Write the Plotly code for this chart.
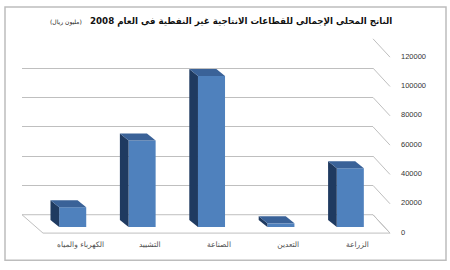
import plotly.graph_objects as go

# Data (left-to-right as displayed)
categories = ["الكهرباء والمياه", "التشييد", "الصناعة", "التعدين", "الزراعة"]
values = [13500, 59000, 103000, 2500, 40000]
y_ticks = [0, 20000, 40000, 60000, 80000, 100000, 120000]
title_main = "الناتج المحلي الإجمالي للقطاعات الانتاجية غير النفطية في العام 2008"
title_unit = "(مليون ريال)"

W, H = 450, 270
def fx(x): return x / W
def fy(y): return 1 - y / H

# Geometry (pixels)
BACK_L, BACK_R, BACK_0, BACK_TOP = 22, 373, 218, 36
BAR_L, BAR_R, BAR_0, BAR_TOP = 38, 385, 230.7, 48.7
FR_L, FR_R, FR_0, FR_TOP = 46, 392, 236, 54
YMAX = 120000

bar_w = 0.39
hw = bar_w / 2
dx = 0.125   # depth offset in category units (towards back-left)
dy = 4800    # depth offset in value units (upwards)

FRONT = "#4F81BD"
TOP = "#3A6298"
SIDE = "#1F3A60"

fig = go.Figure()

idx = list(range(len(categories)))

fig.add_trace(go.Scatter(x=idx, y=values, mode="markers", marker=dict(opacity=0),
                         xaxis="x", yaxis="y", hoverinfo="skip", showlegend=False))
fig.add_trace(go.Scatter(x=idx, y=values, mode="markers", marker=dict(opacity=0),
                         xaxis="x2", yaxis="y2", hoverinfo="skip", showlegend=False))

for i, v in zip(idx, values):
    fig.add_trace(go.Scatter(
        x=[i - hw, i - hw, i - hw - dx, i - hw - dx, i - hw],
        y=[0, v, v + dy, dy, 0],
        fill="toself", fillcolor=SIDE, mode="lines", line=dict(width=0, color=SIDE),
        xaxis="x3", yaxis="y3", hoverinfo="skip", showlegend=False))
    fig.add_trace(go.Scatter(
        x=[i - hw, i + hw, i + hw - dx, i - hw - dx, i - hw],
        y=[v, v, v + dy, v + dy, v],
        fill="toself", fillcolor=TOP, mode="lines", line=dict(width=0, color=TOP),
        xaxis="x3", yaxis="y3", hoverinfo="skip", showlegend=False))

fig.add_trace(go.Bar(x=idx, y=values, width=bar_w, marker=dict(color=FRONT, line=dict(width=0)),
                     xaxis="x3", yaxis="y3", showlegend=False))

shapes = []
shapes.append(dict(type="path", xref="paper", yref="paper",
                   path=f"M {fx(BACK_L)} {fy(BACK_0)} L {fx(BACK_R)} {fy(BACK_0)} L {fx(FR_R - 2)} {fy(FR_0 + 1)} L {fx(43)} {fy(FR_0 + 1)} Z",
                   line=dict(color="#BFBFBF", width=1), layer="below"))
for t in y_ticks:
    yb = BACK_0 - (BACK_0 - BACK_TOP) * t / YMAX
    shapes.append(dict(type="line", xref="paper", yref="paper",
                       x0=fx(BACK_R), y0=fy(yb), x1=fx(FR_R - 2), y1=fy(yb + 19),
                       line=dict(color="#BFBFBF", width=1), layer="below"))
shapes.append(dict(type="rect", xref="paper", yref="paper",
                   x0=fx(5), y0=fy(265), x1=fx(446), y1=fy(3),
                   line=dict(color="#BDBDBD", width=1.5), layer="below"))

fig.update_layout(
    width=W, height=H,
    margin=dict(l=0, r=0, t=0, b=0),
    paper_bgcolor="white", plot_bgcolor="rgba(0,0,0,0)",
    showlegend=False,
    shapes=shapes,
    xaxis=dict(domain=[fx(BACK_L), fx(BACK_R)], range=[-0.5, 4.5], visible=False,
               anchor="y"),
    yaxis=dict(domain=[fy(BACK_0), fy(BACK_TOP)], range=[0, YMAX], anchor="x",
               tickvals=y_ticks, showticklabels=False, showgrid=True,
               gridcolor="#BFBFBF", gridwidth=1, zeroline=False, showline=False),
    xaxis2=dict(domain=[fx(FR_L), fx(FR_R)], range=[-0.5, 4.5], anchor="y2",
                tickvals=idx, ticktext=categories, showgrid=False, zeroline=False,
                showline=False, ticks="", ticklabelstandoff=6,
                tickfont=dict(family="DejaVu Sans", size=7.5, color="#505050")),
    yaxis2=dict(domain=[fy(FR_0), fy(FR_TOP)], range=[0, YMAX], anchor="free",
                position=fx(FR_R), side="right",
                tickvals=y_ticks, tickformat="d", showgrid=False, zeroline=False,
                showline=False, ticks="", ticklabelstandoff=8,
                tickfont=dict(family="Liberation Sans", size=7.5, color="#333333")),
    xaxis3=dict(domain=[fx(BAR_L), fx(BAR_R)], range=[-0.5, 4.5], visible=False,
                anchor="y3"),
    yaxis3=dict(domain=[fy(BAR_0), fy(BAR_TOP)], range=[0, YMAX], visible=False,
                anchor="x3"),
    annotations=[
        dict(text=title_main, xref="paper", yref="paper", x=fx(394), y=fy(18),
             xanchor="right", yanchor="middle", showarrow=False,
             font=dict(family="DejaVu Sans", size=8.7, color="#111111", weight="bold")),
        dict(text=title_unit, xref="paper", yref="paper", x=fx(84), y=fy(19),
             xanchor="right", yanchor="middle", showarrow=False,
             font=dict(family="DejaVu Sans", size=6, color="#222222")),
    ],
)

fig.write_html("out.html")
